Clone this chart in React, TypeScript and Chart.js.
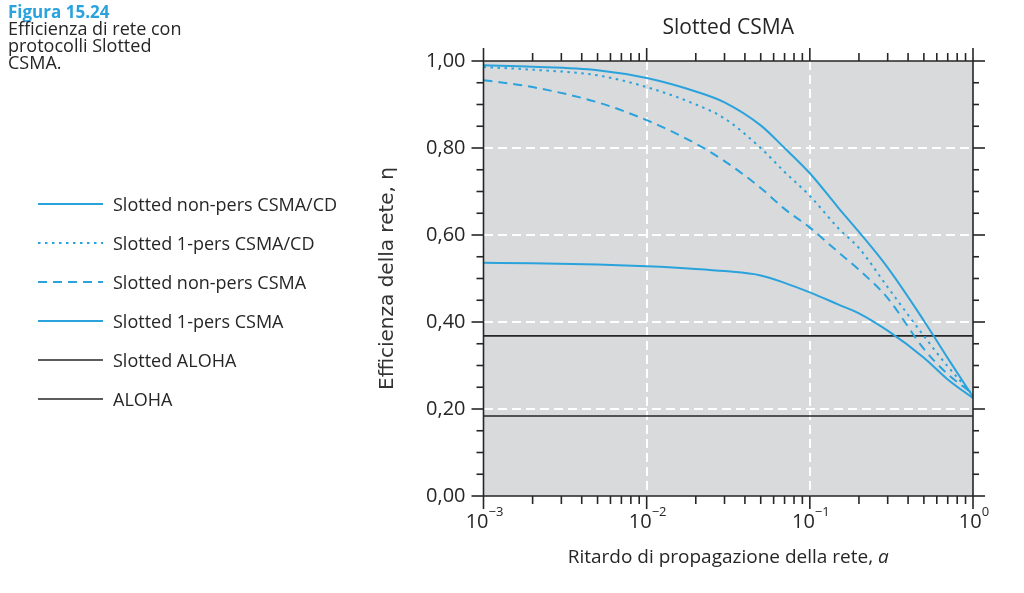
import React, { useEffect, useRef } from 'react';
import { Chart, registerables } from 'chart.js';

Chart.register(...registerables);

// ---------- data ----------
const figureNumber = 'Figura 15.24';
const figureCaption = ['Efficienza di rete con', 'protocolli Slotted', 'CSMA.'];
const chartTitle = 'Slotted CSMA';
const xAxisTitleMain = 'Ritardo di propagazione della rete, ';
const xAxisTitleVar = 'a';
const yAxisTitle = 'Efficienza della rete, η';

const delays = [0.001, 0.002, 0.005, 0.01, 0.02, 0.03, 0.05, 0.07, 0.1, 0.15, 0.2, 0.3, 0.5, 0.7, 1];
const slottedNonPersCsmaCd = [0.99, 0.987, 0.979, 0.961, 0.93, 0.905, 0.852, 0.8, 0.742, 0.662, 0.607, 0.525, 0.403, 0.317, 0.228];
const slotted1PersCsmaCd = [0.986, 0.98, 0.967, 0.94, 0.9, 0.868, 0.8, 0.745, 0.69, 0.615, 0.57, 0.48, 0.368, 0.298, 0.232];
const slottedNonPersCsma = [0.956, 0.94, 0.905, 0.864, 0.81, 0.77, 0.708, 0.66, 0.617, 0.56, 0.52, 0.455, 0.338, 0.28, 0.235];
const slotted1PersCsma = [0.536, 0.535, 0.532, 0.528, 0.522, 0.517, 0.507, 0.49, 0.468, 0.44, 0.42, 0.38, 0.318, 0.268, 0.225];
const alohaDelays = [0.001, 1];
const slottedAloha = [0.368, 0.368];
const pureAloha = [0.184, 0.184];

const seriesLabels = [
  'Slotted non-pers CSMA/CD',
  'Slotted 1-pers CSMA/CD',
  'Slotted non-pers CSMA',
  'Slotted 1-pers CSMA',
  'Slotted ALOHA',
  'ALOHA',
];

const yTickValues = [0, 0.2, 0.4, 0.6, 0.8, 1];
const xDecades = [0.001, 0.01, 0.1, 1];
const xDecadeExponents = ['−3', '−2', '−1', '0'];

// ---------- styles ----------
const FONT = '"Open Sans", "Noto Sans", sans-serif';
const TITLE_FONT = '"DejaVu Sans", sans-serif';
const BLUE = '#2aa3dc';
const INK = '#262626';
const PLOT_BG = '#d9dadc';

const seriesStyles = [
  { color: BLUE, width: 2, dash: [] as number[] },
  { color: BLUE, width: 2, dash: [2.5, 4.5] },
  { color: BLUE, width: 2, dash: [9, 6] },
  { color: BLUE, width: 2, dash: [] as number[] },
  { color: INK, width: 1.6, dash: [] as number[] },
  { color: INK, width: 1.6, dash: [] as number[] },
];

const pairs = (xs: number[], ys: number[]) => xs.map((x, i) => ({ x, y: ys[i] }));

const framePlugin = {
  id: 'frame',
  beforeDraw(chart: any) {
    const { ctx, chartArea: a } = chart;
    ctx.save();
    ctx.fillStyle = PLOT_BG;
    ctx.fillRect(a.left, a.top, a.right - a.left, a.bottom - a.top);
    ctx.restore();
  },
  afterDraw(chart: any) {
    const { ctx, chartArea: a, scales } = chart;
    const xs = scales.x;
    const ys = scales.y;
    ctx.save();
    ctx.strokeStyle = INK;
    ctx.lineWidth = 1.6;
    ctx.lineCap = 'butt';
    const line = (x1: number, y1: number, x2: number, y2: number) => {
      ctx.beginPath();
      ctx.moveTo(x1, y1);
      ctx.lineTo(x2, y2);
      ctx.stroke();
    };
    ctx.beginPath();
    ctx.rect(a.left, a.top, a.right - a.left, a.bottom - a.top);
    ctx.stroke();
    // y ticks (major every 0.2, minor every 0.05)
    for (let i = 0; i <= 20; i++) {
      const v = i * 0.05;
      const major = i % 4 === 0;
      const py = ys.getPixelForValue(v);
      line(a.left - (major ? 12 : 7), py, a.left, py);
      line(a.right, py, a.right + (major ? 12 : 6), py);
    }
    // x ticks (log: 1..9 per decade)
    for (let e = -3; e <= 0; e++) {
      for (let m = 1; m <= 9; m++) {
        const v = m * Math.pow(10, e);
        if (v > 1.0000001) break;
        const px = xs.getPixelForValue(v);
        const len = m === 1 ? 13 : 8;
        line(px, a.bottom, px, a.bottom + len);
        line(px, a.top - len, px, a.top);
      }
    }
    // x labels 10^n
    ctx.fillStyle = INK;
    ctx.textBaseline = 'alphabetic';
    ctx.textAlign = 'left';
    xDecades.forEach((v, i) => {
      const px = xs.getPixelForValue(v);
      ctx.font = `20px ${FONT}`;
      const wBase = ctx.measureText('10').width;
      ctx.font = `13px ${FONT}`;
      const wExp = ctx.measureText(xDecadeExponents[i]).width;
      const start = px - (wBase + wExp) / 2 + 1;
      ctx.font = `20px ${FONT}`;
      ctx.fillText('10', start, a.bottom + 32);
      ctx.font = `13px ${FONT}`;
      ctx.fillText(xDecadeExponents[i], start + wBase, a.bottom + 20);
    });
    // x axis title with italic variable
    ctx.font = `19px ${FONT}`;
    const w1 = ctx.measureText(xAxisTitleMain).width;
    ctx.font = `italic 19px ${FONT}`;
    const w2 = ctx.measureText(xAxisTitleVar).width;
    const cx = (a.left + a.right) / 2;
    const tx = cx - (w1 + w2) / 2;
    ctx.textBaseline = 'middle';
    ctx.font = `19px ${FONT}`;
    ctx.fillText(xAxisTitleMain, tx, 558);
    ctx.font = `italic 19px ${FONT}`;
    ctx.fillText(xAxisTitleVar, tx + w1, 558);
    ctx.restore();
  },
};

function ChartCanvas() {
  const ref = useRef<HTMLCanvasElement | null>(null);
  useEffect(() => {
    if (!ref.current) return;
    const seriesData = [
      pairs(delays, slottedNonPersCsmaCd),
      pairs(delays, slotted1PersCsmaCd),
      pairs(delays, slottedNonPersCsma),
      pairs(delays, slotted1PersCsma),
      pairs(alohaDelays, slottedAloha),
      pairs(alohaDelays, pureAloha),
    ];
    const chart = new Chart(ref.current, {
      type: 'line',
      data: {
        datasets: seriesData.map((d, i) => ({
          label: seriesLabels[i],
          data: d,
          borderColor: seriesStyles[i].color,
          borderWidth: seriesStyles[i].width,
          borderDash: seriesStyles[i].dash,
          pointRadius: 0,
          fill: false,
          cubicInterpolationMode: 'monotone' as const,
        })),
      },
      options: {
        responsive: false,
        animation: false,
        parsing: false as any,
        layout: { padding: { left: 372, right: 51, top: 0, bottom: 0 } },
        plugins: {
          legend: { display: false },
          tooltip: { enabled: false },
          title: {
            display: true,
            text: chartTitle,
            fullSize: false,
            color: INK,
            font: { family: FONT, size: 21, weight: 'normal' as any, lineHeight: 1.2 },
            padding: { top: 15.4, bottom: 20.4 },
          },
        },
        scales: {
          x: {
            type: 'logarithmic',
            min: 0.001,
            max: 1,
            afterBuildTicks: (s: any) => {
              s.ticks = xDecades.map((v) => ({ value: v }));
            },
            afterFit: (s: any) => {
              s.height = 97;
            },
            ticks: { display: false },
            grid: {
              drawTicks: false,
              lineWidth: 2,
              color: (c: any) =>
                c.tick && c.tick.value > 0.001 && c.tick.value < 1 ? '#ffffff' : 'rgba(0,0,0,0)',
            },
            border: { display: false, dash: [9, 5] },
          },
          y: {
            type: 'linear',
            min: 0,
            max: 1,
            afterBuildTicks: (s: any) => {
              s.ticks = yTickValues.map((v) => ({ value: v }));
            },
            afterFit: (s: any) => {
              s.width = 111.5;
            },
            ticks: {
              color: INK,
              padding: 18,
              font: { family: FONT, size: 20 },
              callback: (v: any) => Number(v).toFixed(2).replace('.', ','),
            },
            grid: {
              drawTicks: false,
              lineWidth: 2,
              color: (c: any) =>
                c.tick && c.tick.value > 0.001 && c.tick.value < 0.999 ? '#ffffff' : 'rgba(0,0,0,0)',
            },
            border: { display: false, dash: [9, 5] },
            title: {
              display: true,
              text: yAxisTitle,
              color: '#333333',
              font: { family: TITLE_FONT, size: 20, lineHeight: 1.2 },
              padding: { top: 4, bottom: 0 },
            },
          },
        },
      },
      plugins: [framePlugin],
    });
    return () => chart.destroy();
  }, []);
  return <canvas ref={ref} width={1024} height={593} style={{ display: 'block' }} />;
}

export default function App() {
  return (
    <div style={{ position: 'fixed', left: 0, top: 0, width: 1024, height: 593, background: '#fff', fontFamily: FONT, color: INK }}>
      <ChartCanvas />
      <div style={{ position: 'absolute', left: 8, top: 3, fontSize: 18, lineHeight: '17px' }}>
        <div style={{ color: BLUE, fontWeight: 700, fontSize: 17 }}>{figureNumber}</div>
        {figureCaption.map((t) => (
          <div key={t}>{t}</div>
        ))}
      </div>
      {seriesLabels.map((label, i) => {
        const st = seriesStyles[i];
        return (
          <div key={label} style={{ position: 'absolute', left: 38, top: 204 + i * 39 - 12, height: 24, display: 'flex', alignItems: 'center', fontSize: 18 }}>
            <svg width={66} height={24} style={{ display: 'block' }}>
              <line x1={0} y1={12} x2={65} y2={12} stroke={st.color} strokeWidth={st.width} strokeDasharray={st.dash.join(' ')} />
            </svg>
            <span style={{ marginLeft: 9, whiteSpace: 'nowrap' }}>{label}</span>
          </div>
        );
      })}
    </div>
  );
}
